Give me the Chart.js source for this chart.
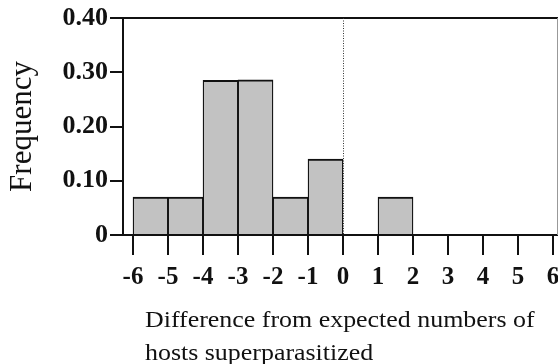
<!DOCTYPE html>
<html>
<head>
<meta charset="utf-8">
<script src="https://cdn.jsdelivr.net/npm/chart.js@4.4.1/dist/chart.umd.min.js"></script>
<style>
  html, body { margin: 0; padding: 0; background: #fff; }
  #wrap { position: relative; width: 558px; height: 364px; overflow: hidden; }
  #plot { position: absolute; left: 0; top: 0; }
  #xtitle {
    position: absolute; left: 145px; top: 303px;
    font-family: "Liberation Serif", "Times New Roman", serif;
    font-size: 24px; line-height: 33px; color: #111;
    transform: scaleX(1.08); transform-origin: left top;
    white-space: nowrap;
  }
</style>
</head>
<body>
<div id="wrap">
  <canvas id="plot" width="558" height="364"></canvas>
  <div id="xtitle">Difference from expected numbers of<br>hosts superparasitized</div>
</div>
<script>
// histogram bins (start of each unit-wide bin) and frequencies
const binStarts = [-6, -5, -4, -3, -2, -1, 0, 1, 2, 3, 4, 5];
const frequencies = [0.07, 0.07, 0.285, 0.286, 0.07, 0.14, 0, 0.07, 0, 0, 0, 0];
const xTickValues = [-6, -5, -4, -3, -2, -1, 0, 1, 2, 3, 4, 5, 6];
const yTickValues = [0, 0.1, 0.2, 0.3, 0.4];
const yTickLabels = ["0", "0.10", "0.20", "0.30", "0.40"];

const serif = "'Liberation Serif', 'Times New Roman', serif";

const frameLines = {
  id: "frameLines",
  afterDatasetsDraw(chart) {
    const { ctx, chartArea, scales } = chart;
    ctx.save();
    // top frame line
    ctx.strokeStyle = "#111";
    ctx.lineWidth = 2;
    ctx.beginPath();
    ctx.moveTo(chartArea.left, chartArea.top);
    ctx.lineTo(chart.width, chartArea.top);
    ctx.stroke();
    // faint right edge
    ctx.strokeStyle = "#999";
    ctx.lineWidth = 1;
    ctx.beginPath();
    ctx.moveTo(chartArea.right + 0.5, chartArea.top);
    ctx.lineTo(chartArea.right + 0.5, chartArea.bottom);
    ctx.stroke();
    // dotted line at zero difference
    const x0 = Math.round(scales.x.getPixelForValue(0)) + 0.5;
    ctx.strokeStyle = "#333";
    ctx.setLineDash([1, 1.5]);
    ctx.beginPath();
    ctx.moveTo(x0, chartArea.top);
    ctx.lineTo(x0, chartArea.bottom);
    ctx.stroke();
    ctx.restore();
  },
};

new Chart(document.getElementById("plot"), {
  type: "bar",
  data: {
    datasets: [
      {
        data: binStarts.map((start, i) => ({ x: start + 0.5, y: frequencies[i] > 0 ? frequencies[i] : null })),
        backgroundColor: "#c2c2c2",
        borderColor: "#111",
        borderWidth: { top: 2, left: 1.3, right: 1.3, bottom: 0 },
        borderSkipped: false,
        barPercentage: 1,
        categoryPercentage: 1,
      },
    ],
  },
  options: {
    responsive: false,
    animation: false,
    layout: { padding: { top: 18, right: 1, left: 0, bottom: 0 } },
    plugins: {
      legend: { display: false },
      tooltip: { enabled: false },
    },
    scales: {
      x: {
        type: "linear",
        min: -6.286,
        max: 6.114,
        offset: false,
        afterBuildTicks(scale) {
          scale.ticks = xTickValues.map((v) => ({ value: v }));
        },
        afterFit(scale) {
          scale.height = 129;
          scale.paddingLeft = 0;
          scale.paddingRight = 0;
        },
        grid: {
          offset: false,
          drawOnChartArea: false,
          tickLength: 20,
          lineWidth: 2,
          color: "#111",
        },
        border: { display: true, color: "#111", width: 2 },
        ticks: {
          autoSkip: false,
          maxRotation: 0,
          padding: 8,
          color: "#111",
          font: { family: serif, size: 25, weight: "bold" },
          callback: (v) => String(v),
        },
      },
      y: {
        min: 0,
        max: 0.4,
        afterBuildTicks(scale) {
          scale.ticks = yTickValues.map((v) => ({ value: v }));
        },
        afterFit(scale) {
          scale.width = 123;
        },
        grid: {
          drawOnChartArea: false,
          tickLength: 13,
          lineWidth: 2,
          color: "#111",
        },
        border: { display: true, color: "#111", width: 2 },
        ticks: {
          padding: 2,
          color: "#111",
          font: { family: serif, size: 26, weight: "bold" },
          callback: (v, i) => yTickLabels[i],
        },
        title: {
          display: true,
          text: "Frequency",
          color: "#111",
          padding: { top: 4, bottom: 0 },
          font: { family: serif, size: 31 },
        },
      },
    },
  },
  plugins: [frameLines],
});
</script>
</body>
</html>
